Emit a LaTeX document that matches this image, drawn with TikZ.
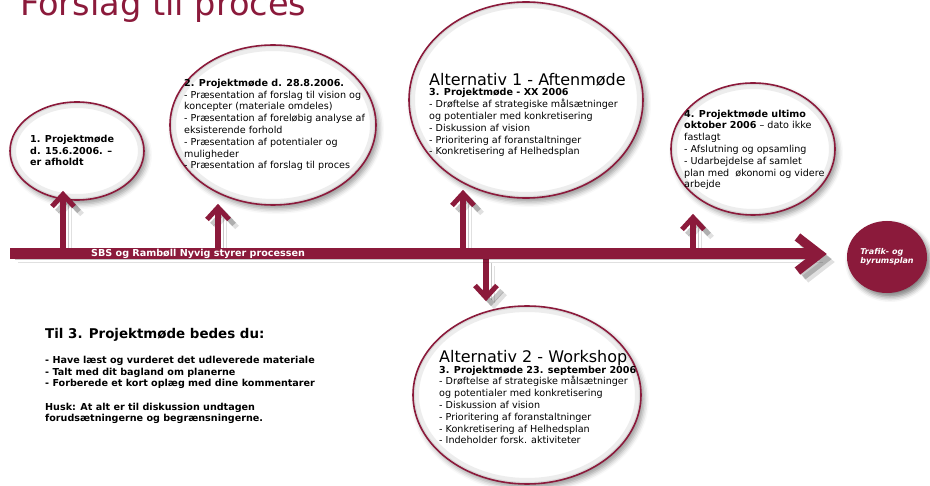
\documentclass[tikz,border=0pt]{standalone}
\usepackage{fontspec}
\setmainfont{DejaVu Sans}
\usepackage{tikz}
\usetikzlibrary{positioning,calc,shapes.geometric,arrows.meta,shadows.blur}
\definecolor{Maroon}{HTML}{8B1A3B}
\definecolor{GlowOuter}{HTML}{EDEDED}
\definecolor{GlowInner}{HTML}{D9D9D9}

\begin{document}
\begin{tikzpicture}[
	x=1pt, y=-1pt,
	bubble/.style={
		ellipse,
		draw=Maroon,
		line width=1.6pt,
		fill=white,
		inner sep=0pt,
		blur shadow={shadow xshift=3pt, shadow yshift=-4pt, shadow blur radius=5pt, shadow opacity=40},
		path picture={
			\draw[GlowOuter, line width=12pt]
			let \p1=($(path picture bounding box.north east)-(path picture bounding box.center)$)
			in (path picture bounding box.center) ellipse [x radius=\x1, y radius=\y1];
			\draw[GlowInner, line width=4pt]
			let \p1=($(path picture bounding box.north east)-(path picture bounding box.center)$)
			in (path picture bounding box.center) ellipse [x radius=\x1, y radius=\y1];
		}
	},
	bodytext/.style={anchor=base west, align=left, inner sep=0pt, font=\fontsize{9.6}{11.8}\selectfont},
	headtext/.style={anchor=base west, inner sep=0pt, font=\fontsize{16}{18}\selectfont},
	castshadow/.style={
		preaction={draw=black, opacity=.12, transform canvas={shift={(8pt,-8pt)}}},
		preaction={draw=black, opacity=.22, transform canvas={shift={(5pt,-5pt)}}}
	},
	mainline/.style={castshadow, draw=Maroon, line width=11pt, -{Straight Barb[length=22pt,width=34pt,line width=9pt]}},
	pointer/.style={castshadow, draw=Maroon, line width=6pt, -{Straight Barb[length=12pt,width=22pt,line width=5pt]}}
	]
	
	\useasboundingbox (0,0) rectangle (930,486);
	
	% ---------------------------------------------------------
	% TITLE
	% ---------------------------------------------------------
	
	\node[
	anchor=base west,
	inner sep=0pt,
	text=Maroon,
	font=\fontsize{33.6}{38}\selectfont
	]
	(title) at (20,16)
	{Forslag til proces};
	
	% ---------------------------------------------------------
	% BUBBLES
	% ---------------------------------------------------------
	
	\node[bubble, minimum width=134pt, minimum height=98pt] (m1) at (77,151) {};
	\node[bubble, minimum width=206pt, minimum height=160pt] (m2) at (273,125) {};
	\node[bubble, minimum width=234pt, minimum height=196pt] (alt1) at (526,100) {};
	\node[bubble, minimum width=164pt, minimum height=132pt] (m4) at (753,149) {};
	\node[bubble, minimum width=228pt, minimum height=178pt] (alt2) at (527,395) {};
	
	% ---------------------------------------------------------
	% GOAL
	% ---------------------------------------------------------
	
	\node[
	ellipse,
	fill=Maroon,
	minimum width=80pt,
	minimum height=72pt,
	inner sep=0pt,
	align=left,
	text=white,
	font=\fontsize{8}{9.5}\selectfont\bfseries\itshape,
	blur shadow={shadow xshift=3pt, shadow yshift=-4pt, shadow blur radius=5pt, shadow opacity=50}
	]
	(goal) at (887,257)
	{Trafik- og\\byrumsplan};
	
	% ---------------------------------------------------------
	% ARROWS
	% ---------------------------------------------------------
	
	\coordinate (start) at (10,254);
	\coordinate (b1) at (63,250);
	\coordinate (b2) at (218,250);
	\coordinate (b3) at (463,250);
	\coordinate (b4) at (693,250);
	\coordinate (b5) at (486,258);
	
	\draw[pointer, shorten >=-10pt] (b1) -- (b1 |- m1.south);
	\draw[pointer, shorten >=-2pt] (b2) -- (b2 |- m2.south);
	\draw[pointer, shorten >=-9pt] (b3) -- (b3 |- alt1.south);
	\draw[pointer, shorten >=-2pt] (b4) -- (b4 |- m4.south);
	\draw[pointer, shorten >=4pt] (b5) -- (b5 |- alt2.north);
	
	\draw[mainline, shorten >=20pt] (start) -- (start -| goal.west);
	
	\node[
	anchor=base west,
	inner sep=0pt,
	text=white,
	font=\fontsize{9.6}{11}\selectfont\bfseries
	]
	(owner) at (91,257)
	{SBS og Rambøll Nyvig styrer processen};
	
	% ---------------------------------------------------------
	% TEXTS
	% ---------------------------------------------------------
	
	\node[bodytext, font=\fontsize{9.6}{11.6}\selectfont\bfseries] (m1text) at (30,166)
	{1. Projektmøde\\d. 15.6.2006. –\\er afholdt};
	
	\node[bodytext] (m2text) at (184,169)
	{\textbf{2. Projektmøde d. 28.8.2006.}\\
		- Præsentation af forslag til vision og\\
		koncepter (materiale omdeles)\\
		- Præsentation af foreløbig analyse af\\
		eksisterende forhold\\
		- Præsentation af potentialer og\\
		muligheder\\
		- Præsentation af forslag til proces};
	
	\node[headtext] (alt1head) at (429,86) {Alternativ 1 - Aftenmøde};
	\node[bodytext] (alt1text) at (429,155)
	{\textbf{3. Projektmøde - XX 2006}\\
		- Drøftelse af strategiske målsætninger\\
		og potentialer med konkretisering\\
		- Diskussion af vision\\
		- Prioritering af foranstaltninger\\
		- Konkretisering af Helhedsplan};
	
	\node[bodytext] (m4text) at (684,188)
	{\textbf{4. Projektmøde ultimo}\\
		\textbf{oktober 2006} – dato ikke\\
		fastlagt\\
		- Afslutning og opsamling\\
		- Udarbejdelse af samlet\\
		plan med\ \ økonomi og videre\\
		arbejde};
	
	\node[headtext] (alt2head) at (439,363) {Alternativ 2 - Workshop};
	\node[bodytext] (alt2text) at (439,444)
	{\textbf{3. Projektmøde 23. september 2006}\\
		- Drøftelse af strategiske målsætninger\\
		og potentialer med konkretisering\\
		- Diskussion af vision\\
		- Prioritering af foranstaltninger\\
		- Konkretisering af Helhedsplan\\
		- Indeholder forsk. aktiviteter};
	
	\node[
	anchor=base west,
	inner sep=0pt,
	font=\fontsize{13.4}{15}\selectfont\bfseries
	]
	(askhead) at (45,339)
	{Til 3. Projektmøde bedes du:};
	
	\node[bodytext, font=\fontsize{9.6}{11.6}\selectfont\bfseries] (asktext) at (45,422)
	{- Have læst og vurderet det udleverede materiale\\
		- Talt med dit bagland om planerne\\
		- Forberede et kort oplæg med dine kommentarer\\[12pt]
		Husk: At alt er til diskussion undtagen\\
		forudsætningerne og begrænsningerne.};
	
\end{tikzpicture}
\end{document}
